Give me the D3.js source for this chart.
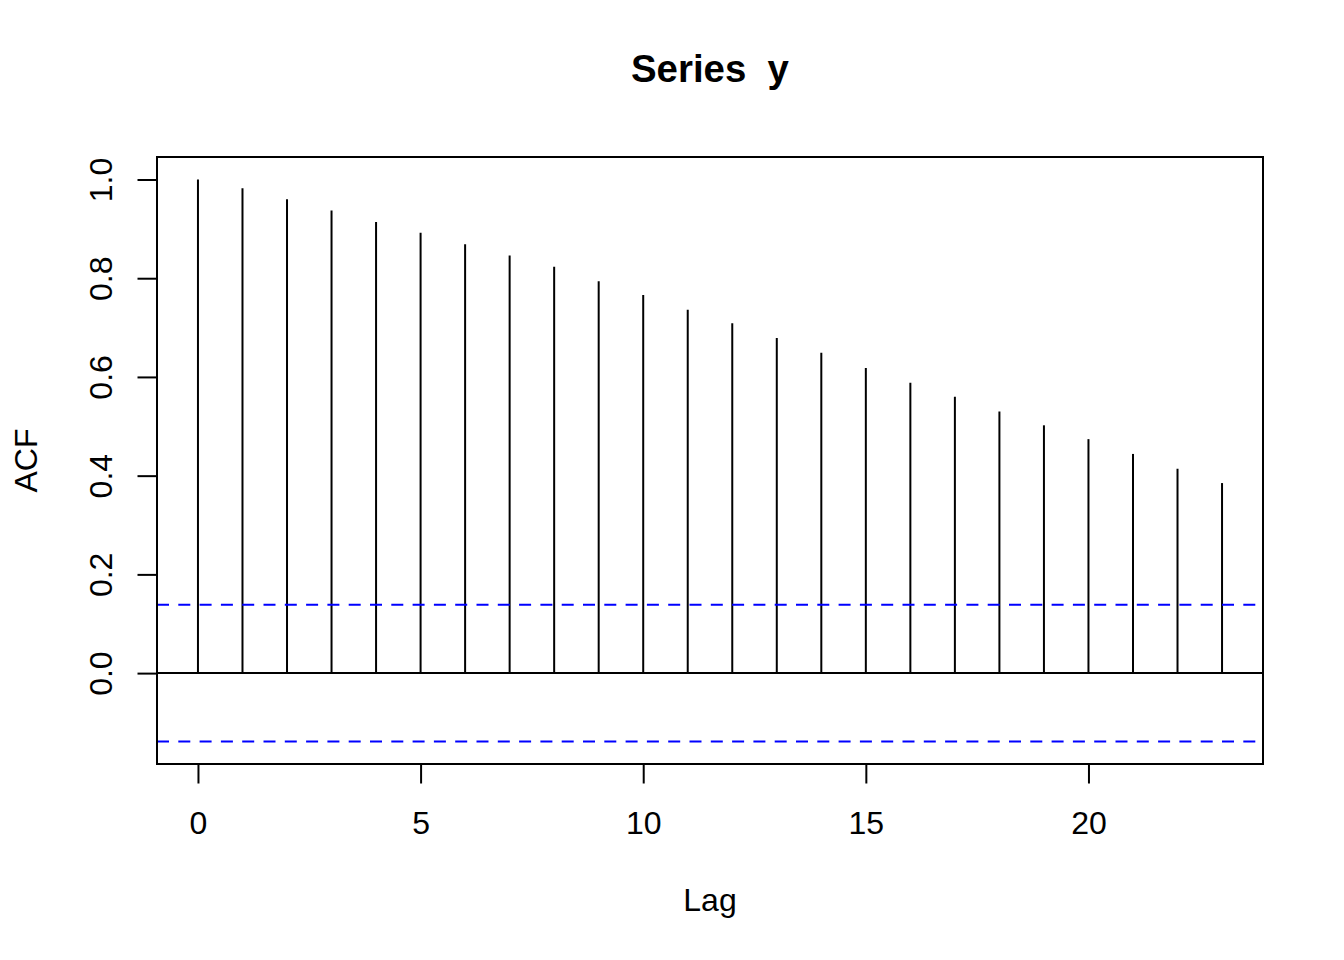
<!DOCTYPE html>
<html>
<head>
<meta charset="utf-8">
<script src="https://cdn.jsdelivr.net/npm/d3@7"></script>
<style>
  body { margin: 0; background: #fff; }
  svg { display: block; font-family: "Liberation Sans", Arial, Helvetica, sans-serif; }
</style>
</head>
<body>
<div id="acfChart"></div>
<script>
// ACF values per lag
var lags = d3.range(0, 24);
var acfValues = [1.000, 0.982, 0.960, 0.937, 0.914, 0.892, 0.869, 0.846,
  0.823, 0.794, 0.766, 0.736, 0.709, 0.679, 0.649, 0.618,
  0.588, 0.560, 0.530, 0.502, 0.474, 0.444, 0.414, 0.385];
var nObs = 200;
var xTicks = [0, 5, 10, 15, 20];
var yTicks = [0, 0.2, 0.4, 0.6, 0.8, 1.0];

var width = 1344, height = 960;
var box = { left: 157, right: 1263, top: 157, bottom: 764 };

var svg = d3.select('#acfChart').append('svg')
  .attr('width', width)
  .attr('height', height);

var clim = 1.96 / Math.sqrt(nObs);

// R style 4% extension of the ranges
var xlim = d3.extent(lags);
var xpad = (xlim[1] - xlim[0]) * 0.04;
var ylim = [-clim, 1];
var ypad = (ylim[1] - ylim[0]) * 0.04;

var x = d3.scaleLinear().domain([xlim[0] - xpad, xlim[1] + xpad]).range([box.left, box.right]);
var y = d3.scaleLinear().domain([ylim[0] - ypad, ylim[1] + ypad]).range([box.bottom, box.top]);

var data = lags.map(function(l, i) { return { lag: l, acf: acfValues[i] }; });

// spikes
svg.append('g').selectAll('line')
  .data(data)
  .enter()
  .append('line')
  .attr('x1', function(d) { return x(d.lag); })
  .attr('x2', function(d) { return x(d.lag); })
  .attr('y1', y(0))
  .attr('y2', function(d) { return y(d.acf); })
  .attr('stroke', '#000')
  .attr('stroke-width', 2);

// zero line
svg.append('line')
  .attr('x1', box.left).attr('x2', box.right)
  .attr('y1', y(0)).attr('y2', y(0))
  .attr('stroke', '#000')
  .attr('stroke-width', 2);

// confidence bounds
svg.append('g').selectAll('line')
  .data([clim, -clim])
  .enter()
  .append('line')
  .attr('x1', box.left).attr('x2', box.right)
  .attr('y1', function(d) { return y(d); })
  .attr('y2', function(d) { return y(d); })
  .attr('stroke', '#0000ff')
  .attr('stroke-width', 2)
  .attr('stroke-dasharray', '12,9.3');

// box
svg.append('rect')
  .attr('x', box.left).attr('y', box.top)
  .attr('width', box.right - box.left)
  .attr('height', box.bottom - box.top)
  .attr('fill', 'none')
  .attr('stroke', '#000')
  .attr('stroke-width', 2);

var xAxis = d3.axisBottom(x).tickValues(xTicks).tickSize(19.5).tickFormat(d3.format('d'));
var gx = svg.append('g')
  .attr('transform', 'translate(0,' + box.bottom + ')')
  .call(xAxis);
gx.select('.domain').remove();
gx.selectAll('line').attr('stroke', '#000').attr('stroke-width', 2);
gx.selectAll('text')
  .attr('y', 70)
  .attr('dy', null)
  .attr('fill', '#000')
  .style('font-size', '32px');

var yAxis = d3.axisLeft(y).tickValues(yTicks).tickSize(19.5).tickFormat(d3.format('.1f'));
var gy = svg.append('g')
  .attr('transform', 'translate(' + box.left + ',0)')
  .call(yAxis);
gy.select('.domain').remove();
gy.selectAll('line').attr('stroke', '#000').attr('stroke-width', 2);
gy.selectAll('text')
  .attr('x', null)
  .attr('dy', null)
  .attr('text-anchor', 'middle')
  .attr('transform', 'translate(-45,0) rotate(-90)')
  .attr('fill', '#000')
  .style('font-size', '32px');

// labels
svg.append('text')
  .attr('x', (box.left + box.right) / 2)
  .attr('y', 82)
  .attr('text-anchor', 'middle')
  .style('font-size', '38.4px')
  .style('font-weight', 'bold')
  .style('white-space', 'pre')
  .text('Series  y');

svg.append('text')
  .attr('x', (box.left + box.right) / 2)
  .attr('y', 911)
  .attr('text-anchor', 'middle')
  .style('font-size', '32px')
  .text('Lag');

svg.append('text')
  .attr('transform', 'translate(37,' + ((box.top + box.bottom) / 2) + ') rotate(-90)')
  .attr('text-anchor', 'middle')
  .style('font-size', '32px')
  .text('ACF');
</script>
</body>
</html>
